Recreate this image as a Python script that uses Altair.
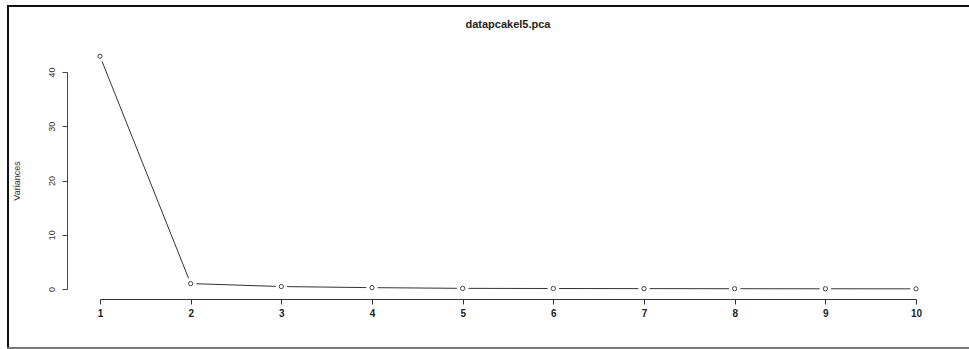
import altair as alt
import pandas as pd

components = [1, 2, 3, 4, 5, 6, 7, 8, 9, 10]
variances = [42.9, 1.0, 0.45, 0.25, 0.12, 0.09, 0.07, 0.05, 0.04, 0.03]
y_ticks = [0, 10, 20, 30, 40]
title_text = "datapcakel5.pca"
y_title = "Variances"

df = pd.DataFrame({"pc": components, "var": variances})

x_enc = alt.X("pc:Q", scale=alt.Scale(domain=[1, 10], nice=False, zero=False),
              axis=alt.Axis(values=components, format="d", title=None, offset=10,
                            tickSize=5, tickColor="#333", domainColor="#333",
                            labelFontSize=10, labelFontWeight="bold", labelColor="#222",
                            labelPadding=4, grid=False, labelFlush=False))
y_enc = alt.Y("var:Q", scale=alt.Scale(domain=[0, 40], nice=False),
              axis=alt.Axis(values=y_ticks, title=y_title, offset=33,
                            tickSize=5, tickColor="#444", domainColor="#444",
                            labelAngle=270, labelAlign="center", labelBaseline="bottom",
                            labelFontSize=9, labelColor="#333", labelPadding=6,
                            titleFontSize=9, titleFontWeight="normal", titleColor="#333",
                            titlePadding=26, grid=False))

base = alt.Chart(df)

line = base.mark_line(color="#333", strokeWidth=1, clip=False).encode(x=x_enc, y=y_enc)
mask = base.mark_point(shape="circle", filled=True, color="white", size=130,
                       opacity=1, clip=False).encode(x="pc:Q", y="var:Q")
pts = base.mark_point(shape="circle", filled=False, color="#444", size=18,
                      strokeWidth=1, opacity=1, clip=False).encode(x="pc:Q", y="var:Q")

frame_left = alt.Chart(df).mark_rule(color="#111", strokeWidth=2).encode(
    x=alt.value(-92), y=alt.value(-66), y2=alt.value(276))
frame_top = alt.Chart(df).mark_rule(color="#111", strokeWidth=2).encode(
    x=alt.value(-93), x2=alt.value(870), y=alt.value(-66))
frame_bottom = alt.Chart(df).mark_rule(color="#777", strokeWidth=1.5).encode(
    x=alt.value(-93), x2=alt.value(870), y=alt.value(276))

chart = alt.layer(line, mask, pts, frame_left, frame_top, frame_bottom).properties(
    width=816, height=217,
    padding={"left": 100, "top": 72, "right": 53, "bottom": 60},
    autosize=alt.AutoSizeParams(type="none"),
    title=alt.TitleParams(title_text, fontSize=11, fontWeight="bold", color="#222",
                          anchor="middle", offset=-25, font="Liberation Sans"),
    background="white",
).configure(font="Liberation Sans").configure_view(stroke="transparent", strokeWidth=0)

chart.save("out.html", embed_options={"renderer": "svg", "actions": False})
